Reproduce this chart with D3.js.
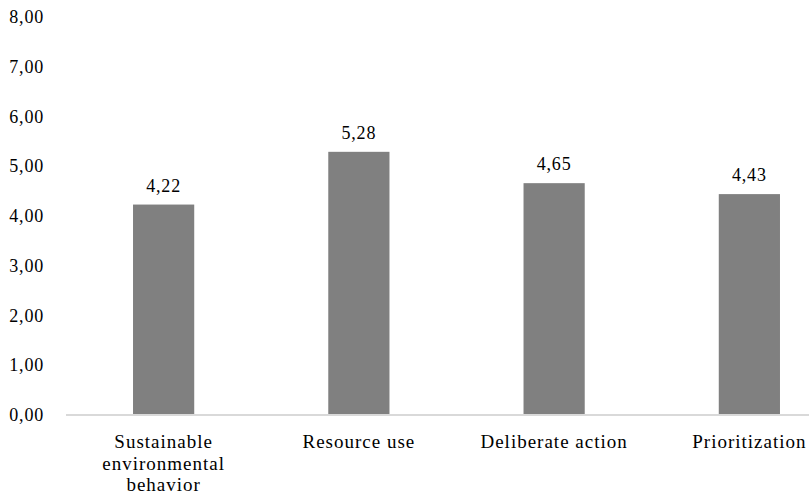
<!DOCTYPE html>
<html>
<head>
<meta charset="utf-8">
<script src="https://cdn.jsdelivr.net/npm/d3@7"></script>
<style>
  html, body { margin: 0; padding: 0; background: #fff; }
  svg { display: block; }
  svg text { font-family: 'Liberation Serif', 'Times New Roman', serif; fill: #000; }
</style>
</head>
<body>
<svg id="chart" width="809" height="503"></svg>
<script>
const categories = ["Sustainable environmental behavior", "Resource use", "Deliberate action", "Prioritization"];
const categoryLines = [["Sustainable", "environmental", "behavior"], ["Resource use"], ["Deliberate action"], ["Prioritization"]];
const values = [4.22, 5.28, 4.65, 4.43];
const yTicks = [0, 1, 2, 3, 4, 5, 6, 7, 8];

const FONT = "'Liberation Serif', 'Times New Roman', serif";
const svg = d3.select("#chart");
const fmt = v => d3.format(".2f")(v).replace(".", ",");

const y = d3.scaleLinear().domain([0, 8]).range([414.5, 16.5]);
const x = d3.scaleBand().domain(categories).range([66, 847]).padding(0);
const barW = x.bandwidth() / 3.19;

// y axis labels
const yAxis = d3.axisLeft(y).tickValues(yTicks).tickSize(0).tickPadding(0).tickFormat(fmt);
const gy = svg.append("g").attr("transform", "translate(44,0)").call(yAxis)
  .attr("font-family", null).attr("font-size", null);
gy.select(".domain").remove();
gy.selectAll("text")
  .style("font-family", FONT)
  .style("font-size", "18px")
  .attr("letter-spacing", "0.8px")
  .attr("fill", "#000")
  .attr("dy", "0.34em");

// bars
svg.append("g").selectAll("rect")
  .data(values)
  .join("rect")
  .attr("x", (d, i) => x(categories[i]) + (x.bandwidth() - barW) / 2)
  .attr("y", d => y(d))
  .attr("width", barW)
  .attr("height", d => y(0) - y(d))
  .attr("fill", "#808080");

// value labels
svg.append("g").selectAll("text")
  .data(values)
  .join("text")
  .attr("x", (d, i) => x(categories[i]) + x.bandwidth() / 2)
  .attr("y", d => y(d) - 13)
  .attr("text-anchor", "middle")
  .style("font-family", FONT)
  .style("font-size", "18px")
  .attr("letter-spacing", "0.8px")
  .text(d => fmt(d));

// x axis line
svg.append("line")
  .attr("x1", 66).attr("x2", 809)
  .attr("y1", y(0) + 0.5).attr("y2", y(0) + 0.5)
  .attr("stroke", "#d9d9d9")
  .attr("stroke-width", 2);

// category labels
const gx = svg.append("g");
categories.forEach((c, i) => {
  const t = gx.append("text")
    .attr("x", x(c) + x.bandwidth() / 2)
    .attr("y", 448)
    .attr("text-anchor", "middle")
    .style("font-family", FONT)
    .style("font-size", "19px")
    .attr("letter-spacing", "1px");
  categoryLines[i].forEach((line, j) => {
    t.append("tspan")
      .attr("x", x(c) + x.bandwidth() / 2)
      .attr("dy", j === 0 ? 0 : 21.7)
      .text(line);
  });
});
</script>
</body>
</html>
